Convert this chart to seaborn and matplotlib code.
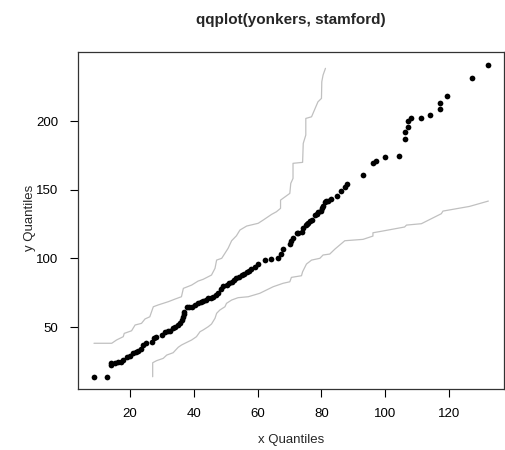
import matplotlib
matplotlib.use("Agg")
import matplotlib.pyplot as plt
import seaborn as sns
import pandas as pd

# Q-Q points (x = yonkers quantiles, y = stamford quantiles)
qx = [8.8, 13.0, 14.1, 14.3, 15.4, 16.4, 17.2, 18.0, 19.1, 20.1, 21.1, 22.0, 22.7, 23.5,
      24.3, 25.1, 26.9, 27.6, 28.2, 30.0, 31.0, 32.0, 32.6, 33.5, 34.2, 35.0, 35.7, 36.5,
      36.8, 37.0, 37.0, 37.8, 38.6, 39.4, 40.5, 41.5, 42.2, 43.0, 43.8, 44.6, 45.3, 46.1,
      47.0, 47.7, 48.5, 49.1, 50.3, 51.0, 51.9, 52.7, 53.4, 54.2, 55.0, 55.8, 56.6, 57.4,
      58.1, 59.2, 60.1, 62.2, 64.2, 66.4, 67.2, 68.1, 70.1, 70.6, 71.1, 72.2, 72.8, 73.9,
      74.2, 75.1, 75.5, 75.8, 76.5, 77.0, 77.9, 78.5, 78.9, 79.7, 80.1, 80.5, 81.1, 81.5,
      82.1, 82.9, 85.0, 86.1, 87.3, 88.0, 93.0, 96.1, 97.0, 100.0, 104.1, 106.0, 106.0,
      107.1, 107.2, 108.1, 111.1, 114.1, 117.1, 117.1, 119.2, 127.1, 132.2]
qy = [13.8, 13.8, 22.4, 24.0, 24.0, 24.3, 24.5, 26.0, 28.0, 29.1, 30.9, 31.5, 32.6, 34.0,
      36.9, 38.2, 39.3, 41.8, 42.5, 44.2, 46.6, 47.0, 47.3, 49.0, 50.3, 51.5, 52.7, 55.0,
      57.5, 59.5, 61.2, 64.4, 64.6, 64.8, 66.0, 67.3, 68.5, 69.2, 70.0, 70.9, 71.5, 72.1,
      73.5, 75.0, 77.5, 79.9, 80.6, 81.8, 83.0, 84.2, 85.5, 86.7, 87.9, 89.0, 90.3, 91.2,
      92.3, 94.0, 95.7, 98.6, 99.3, 100.1, 103.0, 106.6, 110.3, 112.9, 115.1, 118.3, 118.8, 119.5,
      122.4, 124.3, 125.0, 125.8, 127.0, 127.7, 131.8, 132.5, 133.8, 134.7, 136.5, 138.0, 141.1, 141.5,
      142.0, 143.0, 145.4, 148.9, 152.2, 154.2, 160.7, 169.5, 170.7, 173.6, 174.4, 187.0, 191.8,
      195.5, 199.8, 202.2, 202.5, 204.2, 208.6, 213.4, 218.1, 231.4, 240.6]

# Upper envelope
up_x = [8.84, 14.4, 15.9, 18.0, 18.3, 20.6, 21.7, 23.7, 24.8, 26.3, 27.4, 28.9, 32.1, 34.2,
        36.2, 36.8, 39.4, 41.4, 43.0, 45.6, 46.7, 47.2, 48.8, 50.8, 51.9, 53.4, 54.5, 56.6,
        60.2, 61.8, 64.4, 65.9, 67.2, 67.2, 70.1, 70.4, 71.1, 71.1, 74.1, 74.3, 75.1, 75.1,
        76.9, 78.9, 80.0, 80.1, 80.5, 81.25]
up_y = [38.2, 38.2, 40.6, 43.0, 45.4, 47.3, 51.5, 52.7, 55.9, 57.5, 64.8, 66.1, 68.5, 70.4,
        72.1, 78.2, 80.6, 83.5, 84.8, 87.9, 92.8, 98.8, 100.1, 107.4, 112.9, 116.5, 120.7, 123.6,
        125.6, 128.0, 132.1, 134.0, 136.5, 142.5, 147.4, 154.7, 158.3, 169.3, 170.0, 183.8, 189.9, 202.0,
        203.2, 214.1, 216.6, 228.7, 233.6, 238.5]

# Lower envelope
lo_x = [27.2, 27.2, 28.4, 30.5, 31.6, 33.6, 35.2, 36.2, 37.3, 39.4, 40.9, 42.0, 43.0, 44.6,
        45.6, 46.7, 47.2, 48.2, 49.8, 50.3, 51.9, 53.9, 57.1, 60.7, 62.8, 64.9, 66.4, 68.0,
        70.1, 70.6, 73.75, 74.1, 75.3, 76.9, 79.5, 80.5, 82.6, 84.2, 87.3, 93.0, 96.1, 96.1,
        99.25, 106.0, 106.6, 111.25, 117.5, 118.0, 126.3, 132.2]
lo_y = [13.8, 24.0, 25.5, 27.2, 29.6, 31.3, 35.3, 36.9, 38.2, 40.6, 43.0, 46.6, 47.9, 50.3,
        52.2, 56.4, 60.0, 62.4, 64.8, 67.3, 69.7, 71.4, 72.1, 74.6, 77.0, 79.4, 80.6, 81.9,
        83.0, 86.2, 87.4, 90.3, 95.9, 98.8, 100.1, 102.5, 103.2, 106.8, 112.9, 113.9, 116.3, 118.7,
        120.0, 122.9, 124.3, 125.3, 132.6, 134.5, 137.9, 141.8]

x_ticks = [20, 40, 60, 80, 100, 120]
y_ticks = [50, 100, 150, 200]

sns.set_style("white")
plt.rcParams['font.family'] = ['Liberation Sans', 'DejaVu Sans']

fig = plt.figure(figsize=(5.05, 4.5), dpi=100)
ax = fig.add_axes([78/505, 61/450, 426/505, 337/450])

pts = pd.DataFrame({"x": qx, "y": qy})
up = pd.DataFrame({"x": up_x, "y": up_y})
lo = pd.DataFrame({"x": lo_x, "y": lo_y})

sns.lineplot(data=up, x="x", y="y", sort=False, estimator=None, color="#c0c0c0",
             linewidth=0.9, ax=ax)
sns.lineplot(data=lo, x="x", y="y", sort=False, estimator=None, color="#c0c0c0",
             linewidth=0.9, ax=ax)
sns.scatterplot(data=pts, x="x", y="y", color="black", s=17, linewidth=0, ax=ax, zorder=3)

ax.set_xlim(3.84, 137.1)
ax.set_ylim(4.88, 250.4)
ax.set_xticks(x_ticks)
ax.set_yticks(y_ticks)
ax.set_xticklabels([str(t) for t in x_ticks])
ax.set_yticklabels([str(t) for t in y_ticks])
ax.tick_params(axis="both", direction="out", length=6, width=0.8, colors="black",
               labelsize=9.5, pad=8, left=True, bottom=True)
for s in ax.spines.values():
    s.set_color("#333333")
    s.set_linewidth(0.9)
ax.set_xlabel("")
ax.set_ylabel("")
fig.text(291/505, 1 - 440/450, "x Quantiles", ha="center", va="center", fontsize=9.5)
fig.text(30/505, 1 - 218/450, "y Quantiles", ha="center", va="center", fontsize=9.5,
         rotation=90)
fig.text(291/505, 1 - 20/450, "qqplot(yonkers, stamford)", ha="center", va="center",
         fontsize=11, fontweight="bold")

fig.savefig("out.png", dpi=100)
